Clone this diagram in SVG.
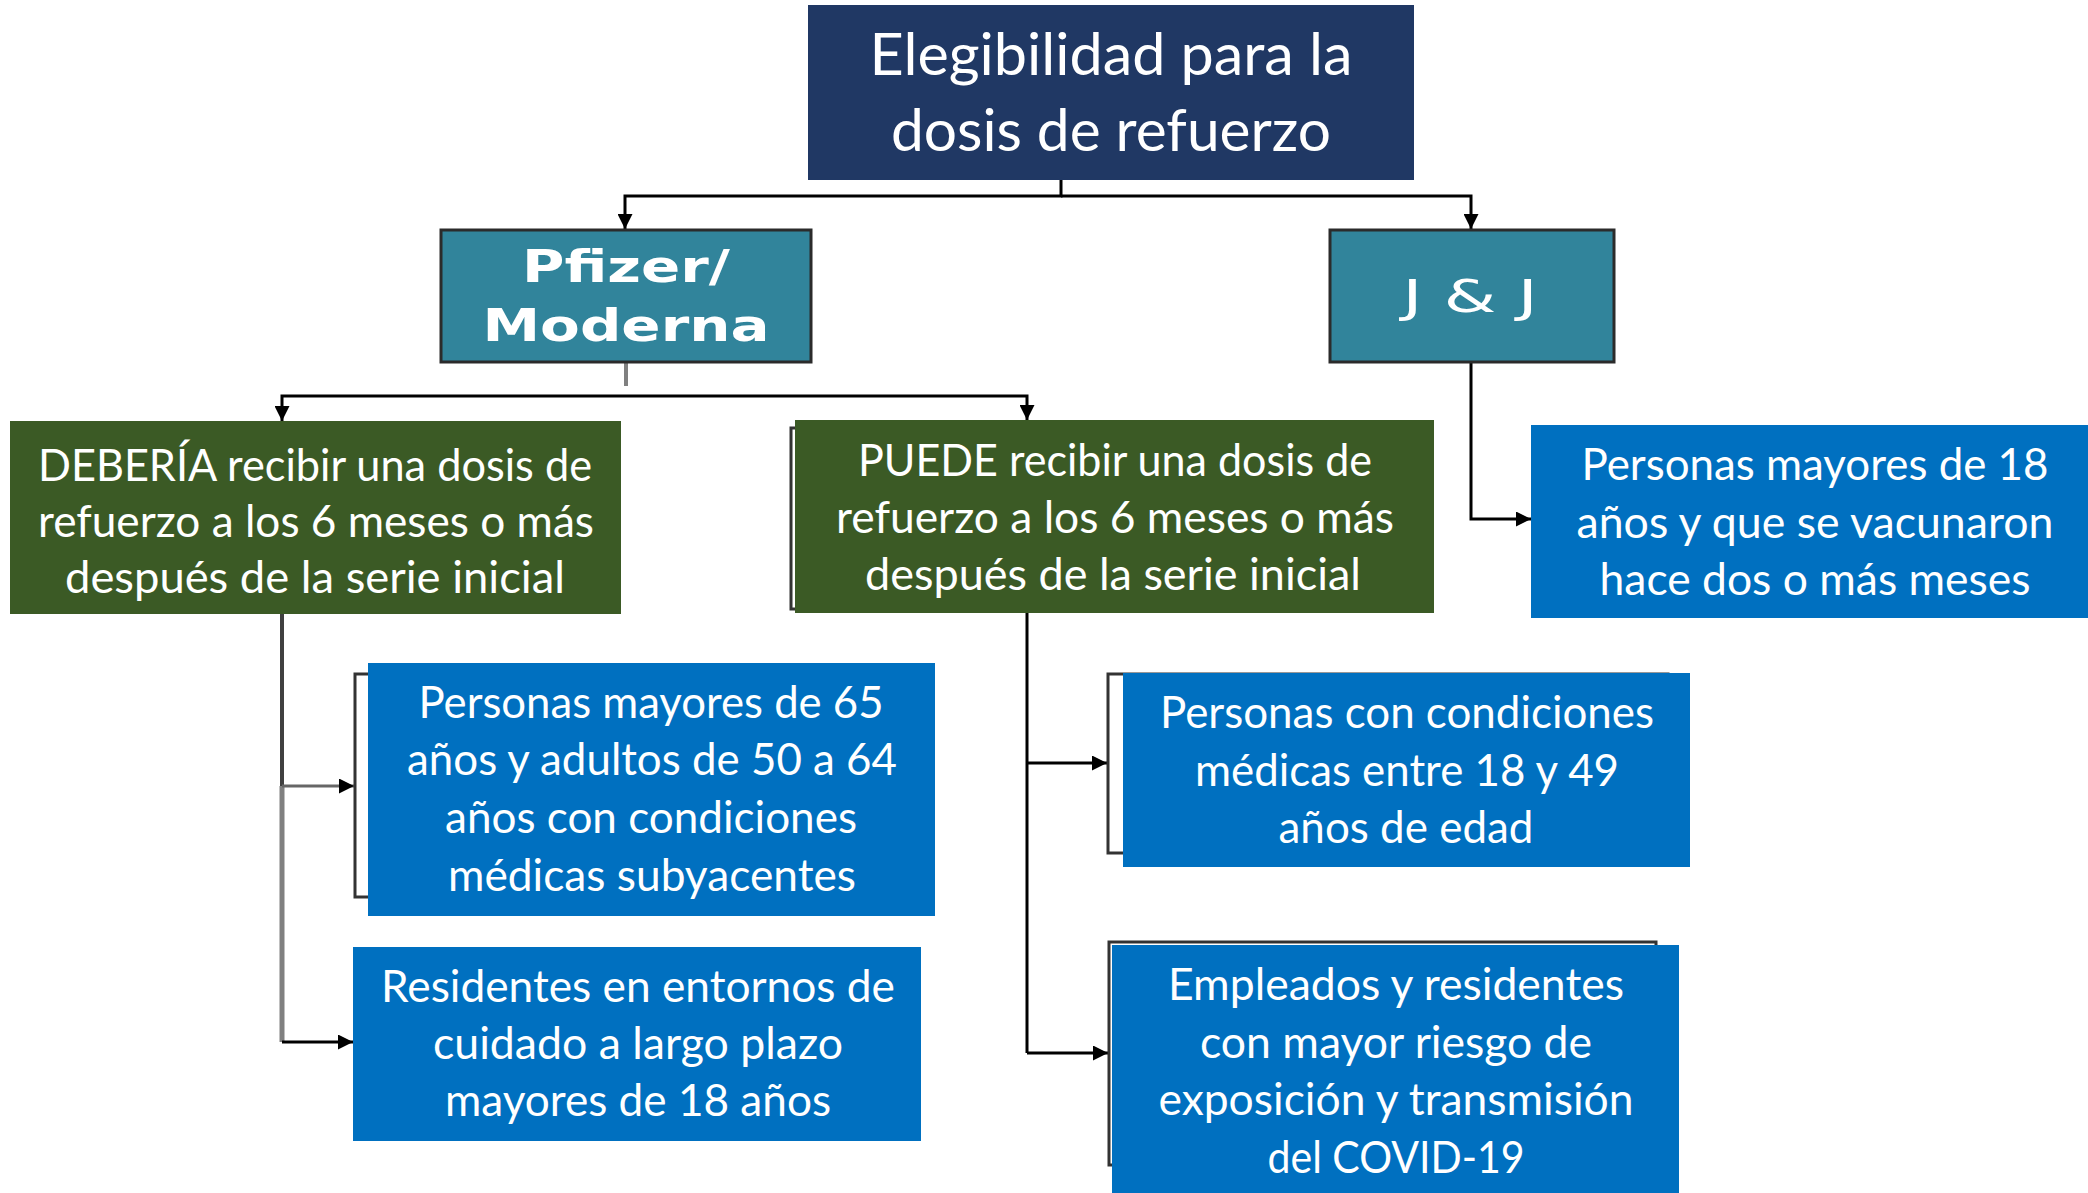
<svg xmlns="http://www.w3.org/2000/svg" width="2088" height="1193" viewBox="0 0 2088 1193">
<style>
  .t{font-family:Lato,"Open Sans","Liberation Sans",sans-serif;fill:#fff;text-anchor:middle}
  .title{font-size:58px}
  .body{font-size:45px}
  .wide{font-family:"DejaVu Sans","Liberation Sans",sans-serif;fill:#fff;text-anchor:middle;font-size:45px}
  .navy{fill:#203864}
  .teal{fill:#31849B;stroke:#2b2b2b;stroke-width:3}
  .green{fill:#3B5A25}
  .blue{fill:#0070C0}
  .shadow{fill:none;stroke:#333;stroke-width:3}
  .c{fill:none;stroke:#000;stroke-width:3}
</style>
<defs>
  <marker id="arr" viewBox="0 0 10 10" refX="10" refY="5" markerUnits="userSpaceOnUse" markerWidth="17" markerHeight="15" orient="auto">
    <path d="M0,0 L10,5 L0,10 z" fill="#000"/>
  </marker>
</defs>

<g id="connectors">
  <path class="c" d="M1061,180 V196 H625 V229" marker-end="url(#arr)"/>
  <path class="c" d="M1061,196 H1471 V229" marker-end="url(#arr)"/>
  <path d="M626,363 V386" fill="none" stroke="#808080" stroke-width="4"/>
  <path class="c" d="M626,396 H282 V421" marker-end="url(#arr)"/>
  <path class="c" d="M626,396 H1027 V420" marker-end="url(#arr)"/>
  <path class="c" d="M1471,363 V519 H1531" marker-end="url(#arr)"/>
  <path d="M282,614 V786" fill="none" stroke="#404040" stroke-width="4"/>
  <path d="M282,786 V1042" fill="none" stroke="#808080" stroke-width="5"/>
  <path d="M282,786 H354" fill="none" stroke="#666" stroke-width="3" marker-end="url(#arr)"/>
  <path class="c" d="M282,1042 H353" marker-end="url(#arr)"/>
  <path class="c" d="M1027,613 V1053"/>
  <path class="c" d="M1027,763 H1107" marker-end="url(#arr)"/>
  <path class="c" d="M1027,1053 H1108" marker-end="url(#arr)"/>
</g>

<g id="title">
  <rect class="navy" x="808" y="5" width="606" height="175"/>
  <text class="t title" x="1111" y="75" textLength="483" lengthAdjust="spacingAndGlyphs">Elegibilidad para la</text>
  <text class="t title" x="1111" y="151" textLength="440" lengthAdjust="spacingAndGlyphs">dosis de refuerzo</text>
</g>

<g id="pfizer">
  <rect class="teal" x="441" y="230" width="370" height="132"/>
  <text class="wide" x="626" y="282" font-weight="bold" textLength="208" lengthAdjust="spacingAndGlyphs">Pfizer/</text>
  <text class="wide" x="626" y="341" font-weight="bold" textLength="287" lengthAdjust="spacingAndGlyphs">Moderna</text>
</g>

<g id="jj">
  <rect class="teal" x="1330" y="230" width="284" height="132"/>
  <text class="wide" x="1470" y="312" textLength="135" lengthAdjust="spacingAndGlyphs">J &amp; J</text>
</g>

<g id="deberia">
  <rect class="green" x="10" y="421" width="611" height="193"/>
  <text class="t body" x="315" y="481" textLength="554" lengthAdjust="spacingAndGlyphs">DEBERÍA recibir una dosis de</text>
  <text class="t body" x="316" y="537" textLength="556" lengthAdjust="spacingAndGlyphs">refuerzo a los 6 meses o más</text>
  <text class="t body" x="315" y="593" textLength="500" lengthAdjust="spacingAndGlyphs">después de la serie inicial</text>
</g>

<g id="puede">
  <rect class="shadow" x="791" y="428" width="600" height="181"/>
  <rect class="green" x="795" y="420" width="639" height="193"/>
  <text class="t body" x="1115" y="476" textLength="514" lengthAdjust="spacingAndGlyphs">PUEDE recibir una dosis de</text>
  <text class="t body" x="1115" y="533" textLength="558" lengthAdjust="spacingAndGlyphs">refuerzo a los 6 meses o más</text>
  <text class="t body" x="1113" y="590" textLength="496" lengthAdjust="spacingAndGlyphs">después de la serie inicial</text>
</g>

<g id="jj-personas">
  <rect class="blue" x="1531" y="425" width="557" height="193"/>
  <text class="t body" x="1815" y="480" textLength="467" lengthAdjust="spacingAndGlyphs">Personas mayores de 18</text>
  <text class="t body" x="1815" y="538" textLength="477" lengthAdjust="spacingAndGlyphs">años y que se vacunaron</text>
  <text class="t body" x="1815" y="595" textLength="431" lengthAdjust="spacingAndGlyphs">hace dos o más meses</text>
</g>

<g id="mayores65">
  <rect class="shadow" x="355" y="674" width="560" height="223" stroke-width="4"/>
  <rect class="blue" x="368" y="663" width="567" height="253"/>
  <text class="t body" x="651" y="718" textLength="465" lengthAdjust="spacingAndGlyphs">Personas mayores de 65</text>
  <text class="t body" x="652" y="775" textLength="490" lengthAdjust="spacingAndGlyphs">años y adultos de 50 a 64</text>
  <text class="t body" x="651" y="833" textLength="412" lengthAdjust="spacingAndGlyphs">años con condiciones</text>
  <text class="t body" x="652" y="891" textLength="408" lengthAdjust="spacingAndGlyphs">médicas subyacentes</text>
</g>

<g id="residentes">
  <rect class="blue" x="353" y="947" width="568" height="194"/>
  <text class="t body" x="638" y="1002" textLength="514" lengthAdjust="spacingAndGlyphs">Residentes en entornos de</text>
  <text class="t body" x="638" y="1059" textLength="410" lengthAdjust="spacingAndGlyphs">cuidado a largo plazo</text>
  <text class="t body" x="638" y="1116" textLength="386" lengthAdjust="spacingAndGlyphs">mayores de 18 años</text>
</g>

<g id="condiciones">
  <rect class="shadow" x="1108" y="674" width="560" height="179"/>
  <rect class="blue" x="1123" y="673" width="567" height="194"/>
  <text class="t body" x="1407" y="728" textLength="494" lengthAdjust="spacingAndGlyphs">Personas con condiciones</text>
  <text class="t body" x="1407" y="786" textLength="424" lengthAdjust="spacingAndGlyphs">médicas entre 18 y 49</text>
  <text class="t body" x="1406" y="843" textLength="255" lengthAdjust="spacingAndGlyphs">años de edad</text>
</g>

<g id="empleados">
  <rect class="shadow" x="1109" y="942" width="547" height="223"/>
  <rect class="blue" x="1112" y="945" width="567" height="250"/>
  <text class="t body" x="1396" y="1000" textLength="456" lengthAdjust="spacingAndGlyphs">Empleados y residentes</text>
  <text class="t body" x="1396" y="1058" textLength="392" lengthAdjust="spacingAndGlyphs">con mayor riesgo de</text>
  <text class="t body" x="1396" y="1115" textLength="475" lengthAdjust="spacingAndGlyphs">exposición y transmisión</text>
  <text class="t body" x="1396" y="1173" textLength="257" lengthAdjust="spacingAndGlyphs">del COVID-19</text>
</g>
</svg>
